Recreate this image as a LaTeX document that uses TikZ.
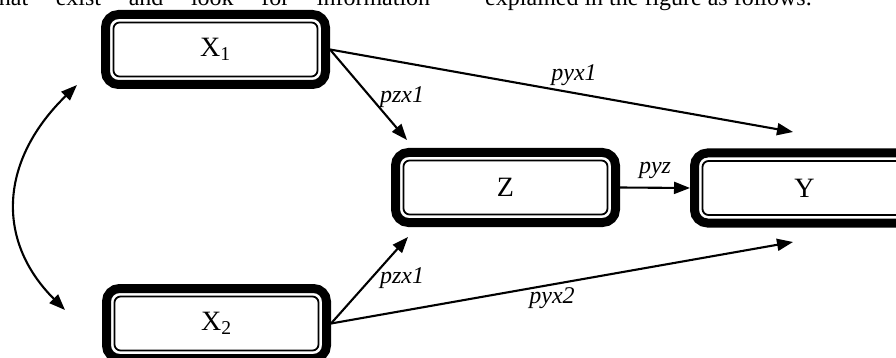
\documentclass[tikz,border=0pt]{standalone}
\usepackage{fontspec}
\setmainfont{Liberation Serif}
\usetikzlibrary{arrows.meta}

\begin{document}
\begin{tikzpicture}[x=1pt,y=-1pt,
  txt/.style={font=\fontsize{24}{28}\selectfont},
  box/.style={font=\fontsize{28}{32}\selectfont, draw, line width=9pt,
    rounded corners=13pt, minimum width=220pt, minimum height=70pt,
    inner sep=0pt},
  innerline/.style={line width=1.8pt, rounded corners=6pt},
  link/.style={line width=2.1pt, -{Triangle[length=16pt,width=12pt]}},
  twoway/.style={line width=2.1pt,
    {Triangle[length=16pt,width=12pt]}-{Triangle[length=16pt,width=12pt]}},
  lbl/.style={font=\fontsize{24}{28}\selectfont\itshape, inner sep=0pt},
]
\useasboundingbox (0,0) rectangle (896,358);
\begin{scope}
\clip (0,0) rectangle (896,358);

% running text of the surrounding page
\node[txt, anchor=base west, inner sep=0pt] (textL) at (-8,6)
  {\makebox[438pt][s]{that exist and look for information}};
\node[txt, anchor=base west, inner sep=0pt] (textR) at (485,6)
  {explained in the figure as follows.};

% variables
\node[box] (X1) at (215.5,49.5) {X\textsubscript{1}};
\node[box] (Z)  at (505.5,187.5) {Z};
\node[box] (Y)  at (804.5,188) {Y};
\node[box] (X2) at (216.5,323.5) {X\textsubscript{2}};

% thin inner frames
\foreach \n in {X1,Z,Y,X2}
  \draw[innerline] ([shift={(12.5,12.5)}]\n.north west)
    rectangle ([shift={(-12.5,-12.5)}]\n.south east);

% arrow end points
\coordinate (zTop) at (407,140);
\coordinate (zBot) at (408,237);
\coordinate (yTop) at (793,132);
\coordinate (yBot) at (793,242);
\coordinate (cA) at (77,85);
\coordinate (cB) at (65,310);

% paths
\draw[link] (X1.east) -- (zTop);
\draw[link] (X1.east) -- (yTop);
\draw[link] (X2.east) -- (zBot);
\draw[link] (X2.east) -- (yBot);
\draw[link] (Z.east) -- (Y.west);
\draw[twoway] (cA) .. controls (0,160) and (-5,240) .. (cB);

% path coefficients
\node[lbl] (l1) at (574,75) {pyx1};
\node[lbl] (l2) at (402,97) {pzx1};
\node[lbl] (l3) at (655,170) {pyz};
\node[lbl] (l4) at (402,278) {pzx1};
\node[lbl] (l5) at (552,298) {pyx2};
\end{scope}
\end{tikzpicture}
\end{document}
